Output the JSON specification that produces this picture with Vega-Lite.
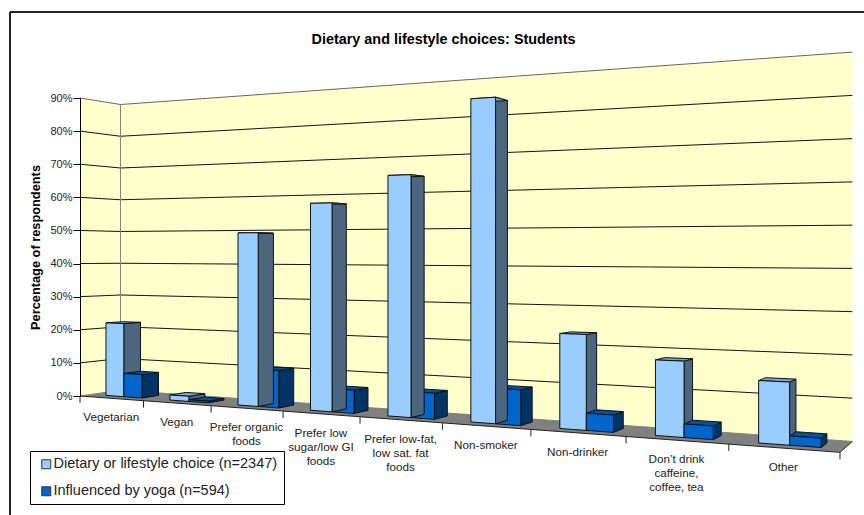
{
  "$schema": "https://vega.github.io/schema/vega-lite/v6.json",
  "width": 773,
  "height": 298,
  "autosize": {"type": "none"},
  "padding": {"left": 80, "top": 98, "right": 11, "bottom": 119},
  "background": "white",
  "config": {
    "view": {"stroke": null},
    "font": "Liberation Sans"
  },
  "title": {
    "text": "Dietary and lifestyle choices: Students",
    "font": "Liberation Sans",
    "fontSize": 14.4,
    "fontWeight": "bold",
    "color": "#000000",
    "anchor": "middle",
    "frame": "group",
    "dx": -23,
    "offset": -36
  },
  "datasets": {
    "columns": [
      {"category": "Vegetarian", "idx": 0, "series": "Dietary or lifestyle choice (n=2347)", "value": 22},
      {"category": "Vegetarian", "idx": 0, "series": "Influenced by yoga (n=594)", "value": 7},
      {"category": "Vegan", "idx": 1, "series": "Dietary or lifestyle choice (n=2347)", "value": 1.5},
      {"category": "Vegan", "idx": 1, "series": "Influenced by yoga (n=594)", "value": 0.5},
      {"category": "Prefer organic\nfoods", "idx": 2, "series": "Influenced by yoga (n=594)", "value": 10.5},
      {"category": "Prefer organic\nfoods", "idx": 2, "series": "Dietary or lifestyle choice (n=2347)", "value": 49},
      {"category": "Prefer low\nsugar/low GI\nfoods", "idx": 3, "series": "Influenced by yoga (n=594)", "value": 6.3},
      {"category": "Prefer low\nsugar/low GI\nfoods", "idx": 3, "series": "Dietary or lifestyle choice (n=2347)", "value": 57},
      {"category": "Prefer low-fat,\nlow sat. fat\nfoods", "idx": 4, "series": "Influenced by yoga (n=594)", "value": 6.8},
      {"category": "Prefer low-fat,\nlow sat. fat\nfoods", "idx": 4, "series": "Dietary or lifestyle choice (n=2347)", "value": 64},
      {"category": "Non-smoker", "idx": 5, "series": "Influenced by yoga (n=594)", "value": 9},
      {"category": "Non-smoker", "idx": 5, "series": "Dietary or lifestyle choice (n=2347)", "value": 83},
      {"category": "Non-drinker", "idx": 6, "series": "Dietary or lifestyle choice (n=2347)", "value": 23.5},
      {"category": "Non-drinker", "idx": 6, "series": "Influenced by yoga (n=594)", "value": 4.2},
      {"category": "Don\u2019t drink\ncaffeine,\ncoffee, tea", "idx": 7, "series": "Dietary or lifestyle choice (n=2347)", "value": 18},
      {"category": "Don\u2019t drink\ncaffeine,\ncoffee, tea", "idx": 7, "series": "Influenced by yoga (n=594)", "value": 3.2},
      {"category": "Other", "idx": 8, "series": "Dietary or lifestyle choice (n=2347)", "value": 14.3},
      {"category": "Other", "idx": 8, "series": "Influenced by yoga (n=594)", "value": 2.1}
    ]
  },
  "layer": [
    {
      "data": {"values": [{"edge": "left"}]},
      "mark": {"type": "rule", "stroke": "#222222", "strokeWidth": 2},
      "encoding": {"x": {"value": -70}, "y": {"value": -86}, "y2": {"value": 417}}
    },
    {
      "data": {"values": [{"edge": "top"}]},
      "mark": {"type": "rule", "stroke": "#222222", "strokeWidth": 2},
      "encoding": {"x": {"value": -70}, "x2": {"value": 784}, "y": {"value": -86}}
    },
    {
      "data": {"values": [{"surface": "back"}, {"surface": "side"}, {"surface": "floor"}]},
      "transform": [
        {"calculate": "[0,1,2,3]", "as": "k"},
        {"flatten": ["k"]},
        {"calculate": "datum.k==1||datum.k==2", "as": "a"},
        {"calculate": "datum.k>=2", "as": "t"},
        {"calculate": "datum.surface=='side'?0:(datum.a?9:0)", "as": "u"},
        {"calculate": "datum.surface=='back'?1:datum.surface=='side'?(datum.a?1:0):(datum.t?1:0)", "as": "d"},
        {"calculate": "datum.surface=='floor'?0:(datum.t?90:0)", "as": "h"},
        {"calculate": "1-0.03007*datum.u+0.043*datum.d", "as": "w"},
        {"calculate": "(80+59.185*datum.u+45.66*datum.d)/datum.w", "as": "px"},
        {"calculate": "(396-((396-7.34*datum.u+11*datum.d-3.311*datum.h*(1+0.001*datum.u))/datum.w))/3.311", "as": "py"}
      ],
      "mark": {"type": "line", "interpolate": "linear-closed", "strokeWidth": 0},
      "encoding": {
        "x": {"field": "px", "type": "quantitative", "scale": {"domain": [80, 853], "nice": false, "zero": false}, "axis": null},
        "y": {
          "field": "py", "type": "quantitative",
          "scale": {"domain": [0, 90], "nice": false, "zero": false},
          "axis": {
            "values": [0, 10, 20, 30, 40, 50, 60, 70, 80, 90],
            "labelExpr": "datum.value + '%'",
            "labelOverlap": false,
            "labelBound": false,
            "title": "Percentage of respondents",
            "titleFont": "Liberation Sans",
            "titleFontSize": 12.8,
            "titleFontWeight": "bold",
            "titleColor": "#000000",
            "titlePadding": 7,
            "labelFont": "Liberation Sans",
            "labelFontSize": 11,
            "labelColor": "#222222",
            "labelPadding": 1,
            "tickSize": 7,
            "tickColor": "#000000",
            "domainColor": "#000000",
            "grid": false,
            "zindex": 1
          }
        },
        "detail": {"field": "surface"},
        "order": {"field": "k", "type": "quantitative"},
        "fill": {
          "field": "surface", "type": "nominal",
          "scale": {"domain": ["back", "side", "floor"], "range": ["#FFFFCC", "#FFFFCC", "#808080"]},
          "legend": null
        }
      }
    },
    {
      "data": {"values": [{"level": 0}, {"level": 10}, {"level": 20}, {"level": 30}, {"level": 40}, {"level": 50}, {"level": 60}, {"level": 70}, {"level": 80}, {"level": 90}]},
      "transform": [
        {"calculate": "[0,1,2]", "as": "k"},
        {"flatten": ["k"]},
        {"calculate": "datum.k==2?9:0", "as": "u"},
        {"calculate": "datum.k==0?0:1", "as": "d"},
        {"calculate": "datum.level", "as": "h"},
        {"calculate": "1-0.03007*datum.u+0.043*datum.d", "as": "w"},
        {"calculate": "(80+59.185*datum.u+45.66*datum.d)/datum.w", "as": "px"},
        {"calculate": "(396-((396-7.34*datum.u+11*datum.d-3.311*datum.h*(1+0.001*datum.u))/datum.w))/3.311", "as": "py"}
      ],
      "mark": {"type": "line", "strokeWidth": 1},
      "encoding": {
        "x": {"field": "px", "type": "quantitative", "scale": {"domain": [80, 853], "nice": false, "zero": false}, "axis": null},
        "y": {"field": "py", "type": "quantitative", "scale": {"domain": [0, 90], "nice": false, "zero": false}, "axis": null},
        "detail": {"field": "level"},
        "order": {"field": "k", "type": "quantitative"},
        "stroke": {
          "condition": [
            {"test": "datum.level==0", "value": "#808080"},
            {"test": "datum.level==90", "value": "#666666"}
          ],
          "value": "#111111"
        }
      }
    },
    {
      "data": {"values": [{"edge": "corner"}, {"edge": "front"}, {"edge": "end"}]},
      "transform": [
        {"calculate": "[0,1]", "as": "k"},
        {"flatten": ["k"]},
        {"calculate": "datum.edge=='front'?datum.k*9:datum.edge=='end'?9:0", "as": "u"},
        {"calculate": "datum.edge=='corner'?1:datum.edge=='end'?datum.k:0", "as": "d"},
        {"calculate": "datum.edge=='corner'?datum.k*90:0", "as": "h"},
        {"calculate": "1-0.03007*datum.u+0.043*datum.d", "as": "w"},
        {"calculate": "(80+59.185*datum.u+45.66*datum.d)/datum.w", "as": "px"},
        {"calculate": "(396-((396-7.34*datum.u+11*datum.d-3.311*datum.h*(1+0.001*datum.u))/datum.w))/3.311", "as": "py"}
      ],
      "mark": {"type": "line", "strokeWidth": 1},
      "encoding": {
        "x": {"field": "px", "type": "quantitative", "scale": {"domain": [80, 853], "nice": false, "zero": false}, "axis": null},
        "y": {"field": "py", "type": "quantitative", "scale": {"domain": [0, 90], "nice": false, "zero": false}, "axis": null},
        "detail": {"field": "edge"},
        "order": {"field": "k", "type": "quantitative"},
        "stroke": {"condition": {"test": "datum.edge=='corner'", "value": "#808080"}, "value": "#222222"}
      }
    },
    {
      "data": {"values": [{"tick": 0}, {"tick": 1}, {"tick": 2}, {"tick": 3}, {"tick": 4}, {"tick": 5}, {"tick": 6}, {"tick": 7}, {"tick": 8}, {"tick": 9}]},
      "transform": [
        {"calculate": "1-0.03007*datum.tick", "as": "w"},
        {"calculate": "(80+59.185*datum.tick)/datum.w", "as": "px"},
        {"calculate": "(396-((396-7.34*datum.tick)/datum.w))/3.311", "as": "py"},
        {"calculate": "datum.py-2.1", "as": "py2"}
      ],
      "mark": {"type": "rule", "stroke": "#222222", "strokeWidth": 1},
      "encoding": {
        "x": {"field": "px", "type": "quantitative", "scale": {"domain": [80, 853], "nice": false, "zero": false}, "axis": null},
        "y": {"field": "py", "type": "quantitative", "scale": {"domain": [0, 90], "nice": false, "zero": false}, "axis": null},
        "y2": {"field": "py2"}
      }
    },
    {
      "data": {"name": "columns"},
      "transform": [
        {"calculate": "['side','top','front']", "as": "face"},
        {"flatten": ["face"]},
        {"calculate": "[0,1,2,3]", "as": "k"},
        {"flatten": ["k"]},
        {"calculate": "datum.k==1||datum.k==2", "as": "a"},
        {"calculate": "datum.k>=2", "as": "t"},
        {"calculate": "datum.idx+0.232+(indexof(datum.series,'Influenced')==0?0.285:0)", "as": "ul"},
        {"calculate": "datum.ul+0.285", "as": "ur"},
        {"calculate": "datum.face=='side'?datum.ur:(datum.a?datum.ur:datum.ul)", "as": "u"},
        {"calculate": "datum.face=='side'?(datum.a?0.7:0.28):datum.face=='top'?(datum.t?0.7:0.28):0.28", "as": "d"},
        {"calculate": "datum.face=='top'?datum.value:(datum.t?datum.value:0)", "as": "h"},
        {"calculate": "1-0.03007*datum.u+0.043*datum.d", "as": "w"},
        {"calculate": "(80+59.185*datum.u+45.66*datum.d)/datum.w", "as": "px"},
        {"calculate": "(396-((396-7.34*datum.u+11*datum.d-3.311*datum.h*(1+0.001*datum.u))/datum.w))/3.311", "as": "py"},
        {"calculate": "(indexof(datum.series,'Influenced')==0?'yoga ':'diet ')+datum.face", "as": "shade"},
        {"calculate": "datum.series+'/'+datum.idx+'/'+datum.face", "as": "polygon"}
      ],
      "mark": {"type": "line", "interpolate": "linear-closed", "stroke": "#111111", "strokeWidth": 1},
      "encoding": {
        "x": {"field": "px", "type": "quantitative", "scale": {"domain": [80, 853], "nice": false, "zero": false}, "axis": null},
        "y": {"field": "py", "type": "quantitative", "scale": {"domain": [0, 90], "nice": false, "zero": false}, "axis": null},
        "detail": {"field": "polygon"},
        "order": {"field": "k", "type": "quantitative"},
        "fill": {
          "field": "shade", "type": "nominal",
          "scale": {
            "domain": ["diet front", "diet top", "diet side", "yoga front", "yoga top", "yoga side"],
            "range": ["#99CCFF", "#7AA3CC", "#4D6680", "#0066CC", "#0052A3", "#003366"]
          },
          "legend": null
        }
      }
    },
    {
      "data": {"name": "columns"},
      "transform": [
        {"filter": "indexof(datum.series,'Dietary')==0"},
        {"calculate": "datum.idx+0.5", "as": "u"},
        {"calculate": "1-0.03007*datum.u", "as": "w"},
        {"calculate": "(80+59.185*datum.u)/datum.w", "as": "px"},
        {"calculate": "(396-((396-7.34*datum.u)/datum.w))/3.311", "as": "py"}
      ],
      "mark": {
        "type": "text", "lineBreak": "\n", "lineHeight": 14, "baseline": "top", "align": "center",
        "dy": 14, "font": "Liberation Sans", "fontSize": 11.7, "fill": "#222222"
      },
      "encoding": {
        "x": {"field": "px", "type": "quantitative", "scale": {"domain": [80, 853], "nice": false, "zero": false}, "axis": null},
        "y": {"field": "py", "type": "quantitative", "scale": {"domain": [0, 90], "nice": false, "zero": false}, "axis": null},
        "text": {"field": "category"}
      }
    },
    {
      "data": {"name": "columns"},
      "mark": {"type": "point", "shape": "square", "filled": true, "size": 0, "opacity": 1},
      "encoding": {
        "fill": {
          "field": "series", "type": "nominal",
          "scale": {
            "domain": ["Dietary or lifestyle choice (n=2347)", "Influenced by yoga (n=594)"],
            "range": ["#99CCFF", "#0066CC"]
          },
          "legend": {
            "title": null,
            "orient": "none",
            "legendX": -50,
            "legendY": 353,
            "fillColor": "white",
            "strokeColor": "#000000",
            "padding": 6,
            "rowPadding": 12,
            "symbolType": "square",
            "symbolSize": 81,
            "symbolStrokeColor": "#333333",
            "symbolStrokeWidth": 1,
            "symbolOffset": 3,
            "labelOffset": 0,
            "labelFont": "Liberation Sans",
            "labelFontSize": 14.5,
            "labelColor": "#222222",
            "labelLimit": 300
          }
        }
      }
    }
  ],
  "resolve": {"scale": {"fill": "independent", "stroke": "independent"}, "axis": {"y": "independent"}}
}
